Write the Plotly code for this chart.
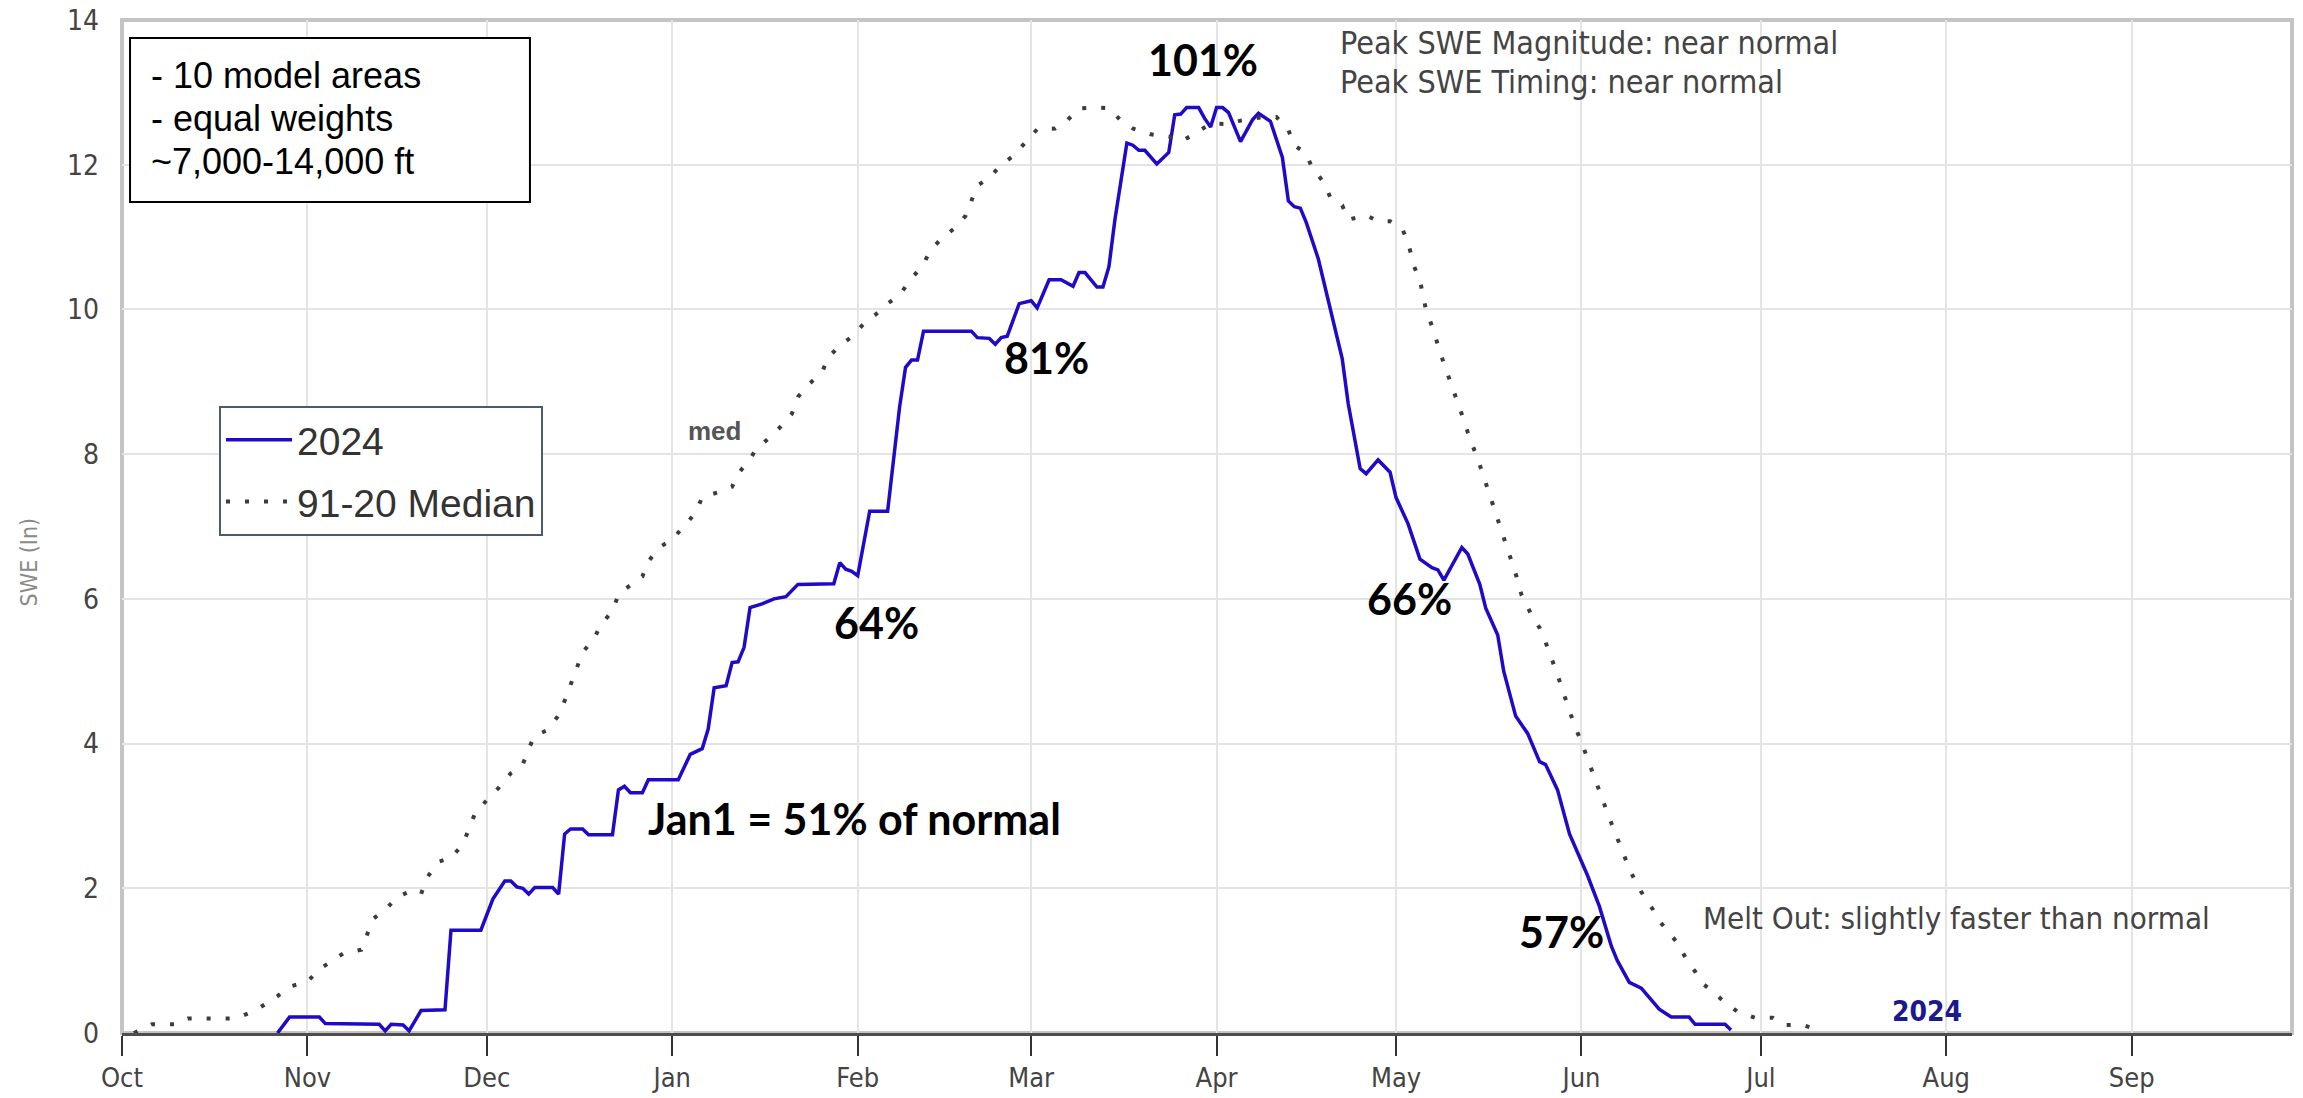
import pandas as pd
import plotly.graph_objects as go

# Water-year origin: day offsets below count from 1 Oct 2023
ORIGIN = pd.Timestamp("2023-10-01")

# 2024 basin-average SWE (inches)
swe_2024_day = [26, 28, 33, 34, 43, 44, 45, 47, 48, 50, 54, 55, 60, 62, 64, 65, 66, 67, 68, 69,
                72, 73, 74, 75, 77, 78, 82, 83, 84, 85, 87, 88, 93, 95, 97, 98, 99, 101, 102, 103,
                104, 105, 107, 108, 109, 111, 113, 119, 120, 121, 122, 123, 125, 128, 129, 130, 131, 132, 133, 134,
                142, 143, 145, 146, 147, 148, 150, 152, 153, 155, 157, 159, 160, 161, 163, 164, 165, 166, 168, 169,
                170, 171, 173, 175, 176, 177, 178, 180, 181, 182, 183, 184, 185, 187, 189, 190, 192, 193, 194, 195,
                196, 197, 198, 200, 202, 204, 205, 207, 208, 210, 212, 213, 215, 217, 219, 220, 221, 224, 225, 227,
                228, 230, 231, 233, 235, 237, 238, 240, 242, 245, 247, 249, 250, 252, 254, 257, 259, 262, 263, 268,
                269]
swe_2024 = [0.0, 0.22, 0.22, 0.13, 0.12, 0.03, 0.12, 0.11, 0.03, 0.31, 0.32, 1.42, 1.42, 1.85, 2.1, 2.1, 2.02, 2.0, 1.92, 2.01,
            2.01, 1.92, 2.75, 2.82, 2.82, 2.74, 2.74, 3.36, 3.41, 3.32, 3.32, 3.5, 3.5, 3.85, 3.93, 4.2, 4.77, 4.8, 5.12, 5.13,
            5.33, 5.88, 5.93, 5.96, 6.0, 6.03, 6.2, 6.21, 6.5, 6.41, 6.38, 6.32, 7.21, 7.21, 7.9, 8.65, 9.2, 9.3, 9.3, 9.7,
            9.7, 9.61, 9.6, 9.52, 9.61, 9.63, 10.08, 10.12, 10.02, 10.41, 10.41, 10.32, 10.51, 10.51, 10.31, 10.31, 10.59, 11.24, 12.3, 12.27,
            12.2, 12.2, 12.01, 12.17, 12.69, 12.7, 12.79, 12.79, 12.64, 12.52, 12.79, 12.79, 12.72, 12.32, 12.62, 12.71, 12.6, 12.34, 12.1, 11.5,
            11.42, 11.4, 11.2, 10.7, 10.0, 9.32, 8.7, 7.8, 7.73, 7.92, 7.75, 7.4, 7.04, 6.55, 6.43, 6.4, 6.26, 6.71, 6.62, 6.2,
            5.87, 5.5, 5.0, 4.38, 4.14, 3.75, 3.71, 3.36, 2.75, 2.18, 1.75, 1.2, 1.0, 0.7, 0.62, 0.33, 0.22, 0.22, 0.12, 0.12,
            0.04]

# 1991-2020 median SWE (inches)
median_day = [2, 3, 5, 9, 11, 19, 22, 24, 26, 28, 31, 33, 35, 37, 40, 41, 42, 44, 46, 48,
              50, 51, 53, 55, 57, 58, 59, 61, 63, 65, 67, 68, 69, 71, 73, 74, 75, 76, 77, 79,
              80, 82, 83, 85, 87, 88, 90, 92, 94, 96, 97, 100, 102, 103, 105, 106, 108, 110, 112, 113,
              115, 117, 118, 120, 122, 124, 126, 128, 130, 132, 134, 135, 137, 139, 141, 142, 143, 145, 147, 149,
              151, 153, 156, 158, 160, 163, 165, 167, 169, 172, 175, 177, 179, 182, 185, 187, 190, 193, 195, 196,
              198, 199, 201, 202, 204, 205, 208, 210, 212, 214, 215, 216, 217, 218, 219, 220, 221, 222, 223, 224,
              225, 226, 227, 228, 229, 230, 231, 232, 233, 234, 236, 237, 238, 240, 241, 242, 243, 244, 246, 247,
              248, 249, 250, 251, 252, 253, 254, 256, 257, 258, 260, 261, 262, 263, 264, 266, 268, 270, 273, 276,
              278, 281, 284]
median_swe = [0.0, 0.04, 0.12, 0.12, 0.2, 0.2, 0.3, 0.4, 0.51, 0.64, 0.71, 0.88, 0.99, 1.1, 1.15, 1.35, 1.58, 1.7, 1.88, 1.95,
              1.92, 2.15, 2.37, 2.42, 2.61, 2.82, 3.03, 3.22, 3.39, 3.59, 3.71, 3.93, 4.11, 4.18, 4.39, 4.59, 4.82, 5.05, 5.26, 5.46,
              5.64, 5.83, 6.06, 6.19, 6.31, 6.52, 6.72, 6.82, 7.01, 7.2, 7.41, 7.48, 7.55, 7.73, 7.93, 8.07, 8.21, 8.37, 8.56, 8.79,
              8.98, 9.12, 9.33, 9.5, 9.62, 9.8, 9.93, 10.08, 10.2, 10.43, 10.62, 10.8, 10.98, 11.11, 11.29, 11.5, 11.71, 11.82, 12.0, 12.12,
              12.3, 12.49, 12.5, 12.61, 12.78, 12.79, 12.78, 12.61, 12.5, 12.42, 12.39, 12.32, 12.41, 12.57, 12.56, 12.61, 12.65, 12.66, 12.48, 12.27,
              12.15, 11.95, 11.75, 11.55, 11.44, 11.24, 11.3, 11.22, 11.22, 11.12, 10.93, 10.6, 10.4, 10.0, 9.77, 9.5, 9.25, 9.02, 8.8, 8.55,
              8.3, 8.08, 7.85, 7.6, 7.35, 7.1, 6.86, 6.6, 6.35, 6.05, 5.72, 5.6, 5.4, 4.95, 4.69, 4.45, 4.22, 4.02, 3.57, 3.36,
              3.12, 2.9, 2.69, 2.49, 2.27, 2.1, 1.95, 1.7, 1.55, 1.45, 1.25, 1.1, 0.95, 0.85, 0.7, 0.57, 0.42, 0.3, 0.21, 0.21,
              0.11, 0.11, 0.03]

# Percent-of-median callouts: (text, date, SWE)
callout_text = ["101%", "81%", "64%", "66%", "57%", "Jan1 = 51% of normal"]
callout_date = ["2024-03-29 17:00", "2024-03-03 14:00", "2024-02-04 05:00",
                "2024-05-03 07:00", "2024-05-28 17:00", "2024-01-31 12:00"]
callout_swe = [13.46, 9.34, 5.68, 6.01, 1.40, 2.97]

# Notes box lines
note_lines = ["- 10 model areas", "- equal weights", "~7,000-14,000 ft"]

x_2024 = ORIGIN + pd.to_timedelta(swe_2024_day, unit="D")
x_med = ORIGIN + pd.to_timedelta(median_day, unit="D")

NARROW = "Liberation Sans Narrow, Arial Narrow, DejaVu Sans Condensed, sans-serif"
SANS = "Liberation Sans, Arial, sans-serif"
BOLD = "Lato, Calibri, Liberation Sans, sans-serif"

fig = go.Figure()
fig.add_trace(go.Scatter(
    x=x_2024, y=swe_2024, mode="lines", name="2024", legendgroup="a",
    line=dict(color="#1e0ac8", width=3.5),
))
fig.add_trace(go.Scatter(
    x=x_med, y=median_swe, mode="lines", name="91-20 Median", legendgroup="b",
    line=dict(color="#3c3c3c", width=4, dash="4px,15px"),
))

annotations = []
for t, d, v in zip(callout_text, callout_date, callout_swe):
    annotations.append(dict(x=d, y=v, xref="x", yref="y", text=t, showarrow=False,
                            font=dict(family=BOLD, size=43, color="#000000", weight="bold")))

for i, line in enumerate(note_lines):
    annotations.append(dict(x=0.0124, y=0.9457 - i * 0.0425, xref="paper", yref="paper",
                            xanchor="left", yanchor="middle", text=line, showarrow=False,
                            font=dict(family=SANS, size=36, color="#000000")))

annotations += [
    dict(x="2024-01-08 02:00", y=8.32, xref="x", yref="y", text="med", showarrow=False,
         font=dict(family=SANS, size=26, color="#555555", weight="bold")),
    dict(x="2024-07-28 17:00", y=0.30, xref="x", yref="y", text="2024", showarrow=False,
         font=dict(family=NARROW, size=28, color="#1a1a8c", weight="bold")),
    dict(x="2024-04-21 07:00", y=13.68, xref="x", yref="y", text="Peak SWE Magnitude: near normal",
         showarrow=False, xanchor="left", font=dict(family=NARROW, size=32, color="#444444")),
    dict(x="2024-04-21 07:00", y=13.15, xref="x", yref="y", text="Peak SWE Timing: near normal",
         showarrow=False, xanchor="left", font=dict(family=NARROW, size=32, color="#444444")),
    dict(x="2024-06-21", y=1.59, xref="x", yref="y", text="Melt Out: slightly faster than normal",
         showarrow=False, xanchor="left", font=dict(family=NARROW, size=31, color="#444444")),
    dict(x=-0.05, y=0.465, xref="paper", yref="paper", text="SWE (In)", textangle=-90,
         showarrow=False, font=dict(family=NARROW, size=23, color="#8a8a8a")),
]

shapes = [
    # plot frame
    dict(type="rect", xref="paper", yref="paper", x0=0, x1=1, y0=0, y1=1,
         line=dict(color="#c4c4c4", width=4), layer="below"),
    # notes box in the upper-left corner
    dict(type="rect", xref="paper", yref="paper", x0=0.0037, x1=0.188, y0=0.8203, y1=0.9822,
         line=dict(color="#000000", width=2), fillcolor="#ffffff", layer="above"),
]

fig.update_layout(
    width=2303, height=1098,
    margin=dict(l=122, r=11, t=20, b=65),
    paper_bgcolor="#ffffff", plot_bgcolor="#ffffff",
    showlegend=True,
    legend=dict(x=0.0447, y=0.619, xanchor="left", yanchor="top",
                bordercolor="#4a5a70", borderwidth=2, bgcolor="#ffffff",
                font=dict(family=SANS, size=39, color="#333333"),
                tracegroupgap=8, itemwidth=66),
    annotations=annotations,
    shapes=shapes,
)
fig.update_xaxes(
    range=["2023-10-01", "2024-09-27 19:00"], tick0="2023-10-01", dtick="M1", tickformat="%b",
    showgrid=True, gridcolor="#e4e4e4", gridwidth=2,
    showline=True, linecolor="#4d4d4d", linewidth=3,
    ticks="outside", ticklen=20, tickwidth=2, tickcolor="#333333",
    tickfont=dict(family=NARROW, size=27, color="#444444"),
    ticklabelstandoff=-1, automargin=False,
    zeroline=False,
)
fig.update_yaxes(
    range=[0, 14], dtick=2, showgrid=True, gridcolor="#e4e4e4", gridwidth=2,
    zeroline=False, showline=False, ticks="",
    tickfont=dict(family=NARROW, size=28, color="#444444"),
    ticklabelstandoff=22, automargin=False,
)

fig.write_html("out.html")
